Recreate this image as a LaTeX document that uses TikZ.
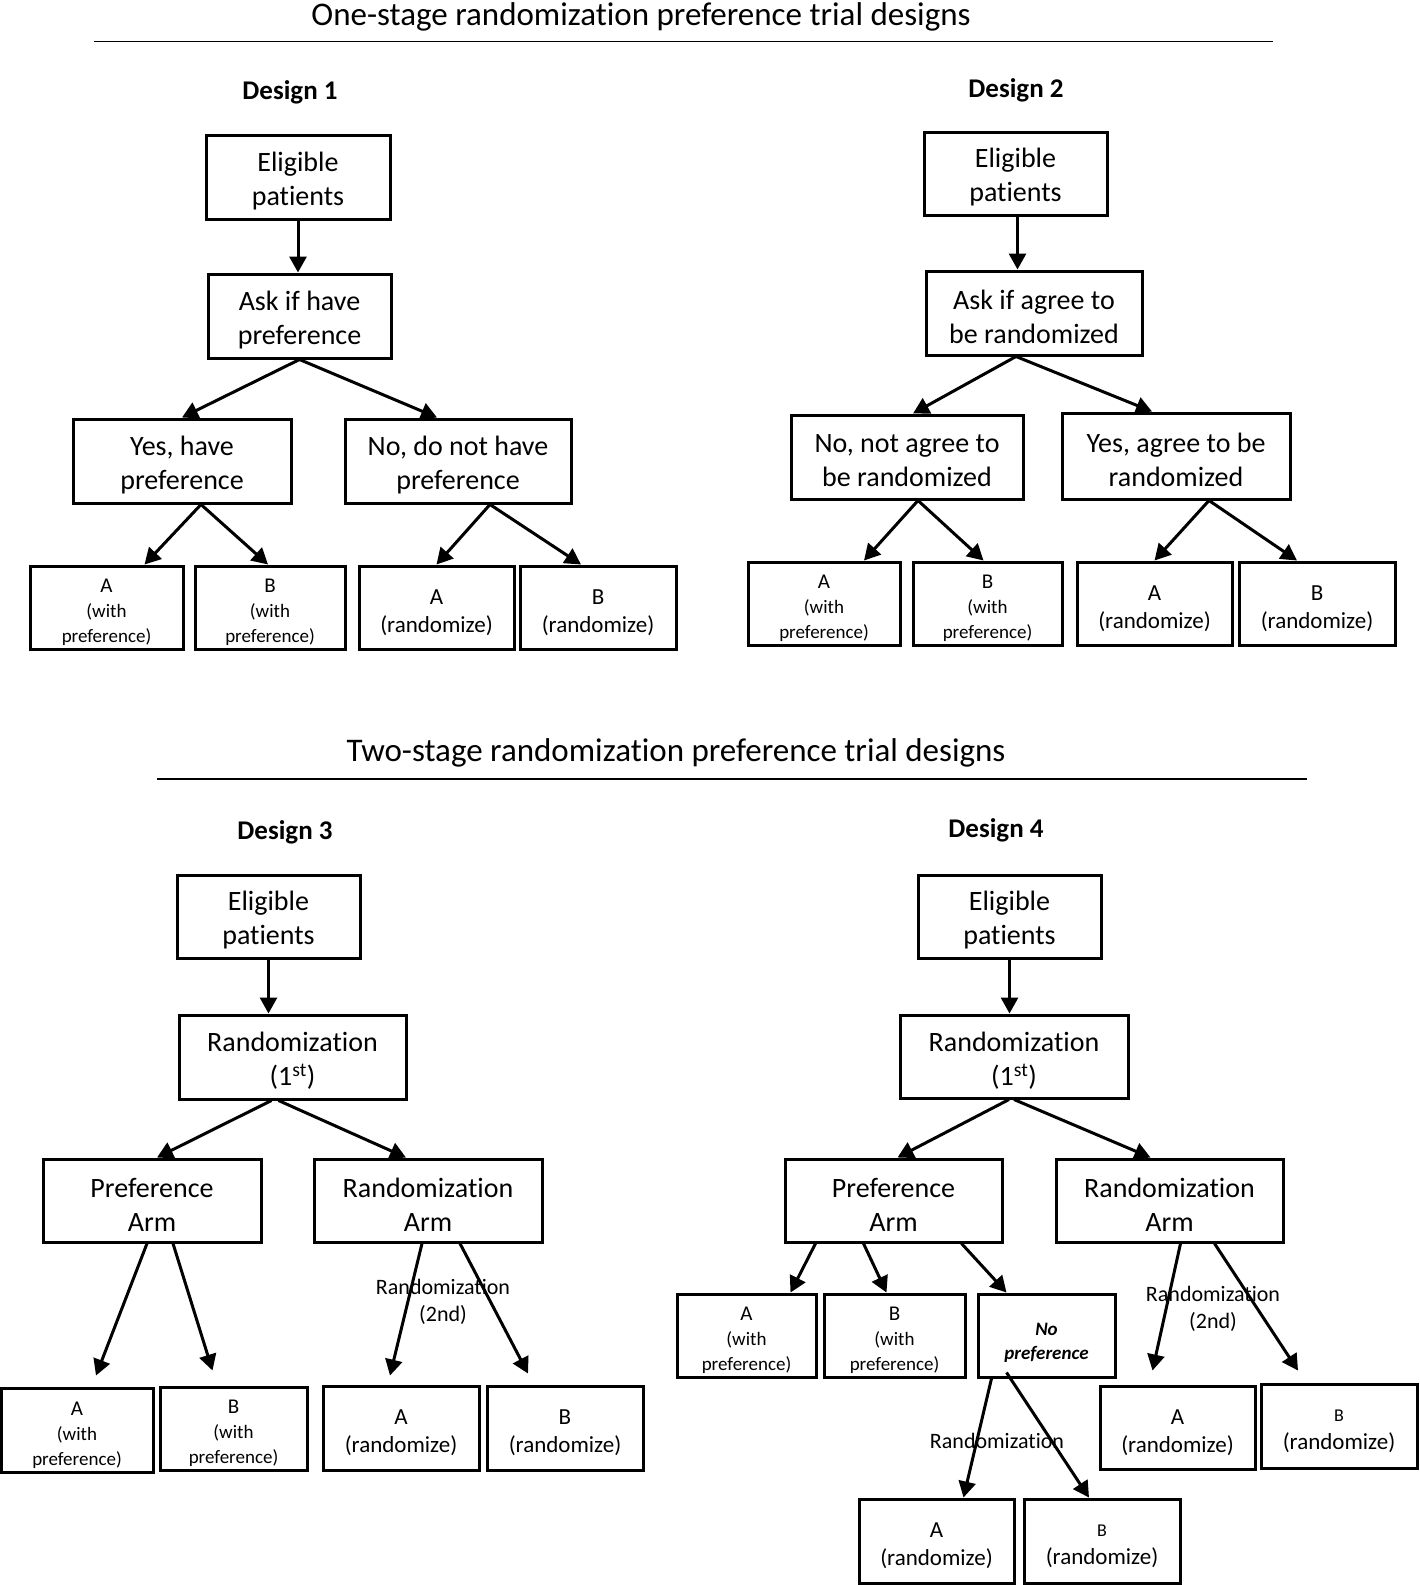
\documentclass[tikz,border=0pt]{standalone}
\usepackage{fontspec}
\setmainfont{Carlito}[Ligatures=NoCommon]
\usetikzlibrary{arrows.meta}
\newcommand\fsz[2]{\fontsize{#1}{#2}\selectfont}
\newcommand\bx[7]{\node[box,minimum width={(#4-#2)*1pt},minimum height={(#5-#3)*1pt}] (#1) at ({(#2+#4)/2},{(#3+#5)/2}) {};
  \node[txt,#6] (#1t) at (#1.center) {#7};}
\begin{document}
\begin{tikzpicture}[x=1pt,y=-1pt,
  box/.style={draw, line width=3pt, inner sep=0pt},
  txt/.style={inner sep=0pt, align=center, font=\fsz{28}{34}, yshift=-4pt},
  small/.style={font=\fsz{19}{25}, yshift=-1pt},
  rnd/.style={font=\fsz{23}{28}, yshift=-1pt},
  arr/.style={line width=3pt, -{Triangle[length=16pt,width=17pt]}},
  ttl/.style={anchor=base, font=\fsz{33}{40}},
  dsg/.style={anchor=base, font=\bfseries\fsz{27}{32}},
  lbl/.style={align=center, font=\fsz{22}{27}, inner sep=0pt},
  rule/.style={line width=1.5pt}]
\useasboundingbox (0,0) rectangle (1420,1585);
% titles
\node[ttl] (t1) at (641,25) {One-stage randomization preference trial designs};
\coordinate (r1a) at (94,41.5); \coordinate (r1b) at (1273,41.5);
\draw[rule] (r1a) -- (r1b);
\node[ttl] (t2) at (676,761) {Two-stage randomization preference trial designs};
\coordinate (r2a) at (157,779); \coordinate (r2b) at (1307,779);
\draw[rule] (r2a) -- (r2b);
\node[dsg] (d1) at (290,99) {Design 1};
\node[dsg] (d2) at (1016,97) {Design 2};
\node[dsg] (d3) at (285,839) {Design 3};
\node[dsg] (d4) at (996,837) {Design 4};
% Design 1
\bx{e1}{206}{135}{390}{219}{}{Eligible\\patients}
\bx{ask1}{208}{274}{391}{358}{}{Ask if have\\preference}
\bx{yes1}{73}{419}{291}{503}{}{Yes, have\\preference}
\bx{no1}{345}{419}{571}{503}{}{No, do not have\\preference}
\bx{a1}{30}{566}{183}{649}{small}{{\fsz{21}{25}A}\\(with\\preference)}
\bx{b1}{195}{566}{345}{649}{small}{{\fsz{21}{25}B}\\(with\\preference)}
\bx{ra1}{359}{566}{514}{649}{rnd}{A\\(randomize)}
\bx{rb1}{520}{566}{676}{649}{rnd}{B\\(randomize)}
\draw[arr] (e1.south) -- (e1.south |- ask1.north);
\draw[arr] (ask1.south) -- (yes1.north);
\draw[arr] (ask1.south) -- ([xshift=-21pt]no1.north);
\draw[arr] ([xshift=19pt]yes1.south) -- ([xshift=38pt]a1.north);
\draw[arr] ([xshift=19pt]yes1.south) -- ([xshift=-2pt]b1.north);
\draw[arr] ([xshift=32pt]no1.south) -- (ra1.north);
\draw[arr] ([xshift=32pt]no1.south) -- ([xshift=-17pt]rb1.north);
% Design 2
\bx{e2}{924}{132}{1107}{215}{}{Eligible\\patients}
\bx{ask2}{926}{271}{1142}{355}{}{Ask if agree to\\be randomized}
\bx{no2}{791}{415}{1023}{499}{}{No, not agree to\\be randomized}
\bx{yes2}{1062}{413}{1290}{499}{}{Yes, agree to be\\randomized}
\bx{a2}{748}{562}{900}{645}{small}{{\fsz{21}{25}A}\\(with\\preference)}
\bx{b2}{913}{562}{1062}{645}{small}{{\fsz{21}{25}B}\\(with\\preference)}
\bx{ra2}{1077}{562}{1232}{645}{rnd}{A\\(randomize)}
\bx{rb2}{1239}{562}{1395}{645}{rnd}{B\\(randomize)}
\draw[arr] ([xshift=2pt]e2.south) -- ([xshift=2pt]e2.south |- ask2.north);
\draw[arr] ([xshift=-18pt]ask2.south) -- ([xshift=6pt]no2.north);
\draw[arr] ([xshift=-18pt]ask2.south) -- ([xshift=-24pt]yes2.north);
\draw[arr] ([xshift=11pt]no2.south) -- ([xshift=40pt]a2.north);
\draw[arr] ([xshift=11pt]no2.south) -- ([xshift=-4pt]b2.north);
\draw[arr] ([xshift=33pt]yes2.south) -- (ra2.north);
\draw[arr] ([xshift=33pt]yes2.south) -- ([xshift=-20pt]rb2.north);
% Design 3
\bx{e3}{177}{875}{360}{958}{}{Eligible\\patients}
\bx{r3}{179}{1015}{406}{1099}{}{Randomization\\(1\textsuperscript{st})}
\bx{pa3}{43}{1159}{261}{1242}{}{Preference\\Arm}
\bx{ra3}{314}{1159}{542}{1242}{}{Randomization\\Arm}
\bx{a3}{1}{1388}{153}{1472}{small}{{\fsz{21}{25}A}\\(with\\preference)}
\bx{b3}{160}{1387}{307}{1470}{small}{{\fsz{21}{25}B}\\(with\\preference)}
\bx{rra3}{323}{1386}{479}{1470}{rnd}{A\\(randomize)}
\bx{rrb3}{487}{1386}{643}{1470}{rnd}{B\\(randomize)}
\draw[arr] (e3.south) -- (e3.south |- r3.north);
\draw[arr] ([xshift=-21pt]r3.south) -- ([xshift=5pt]pa3.north);
\draw[arr] ([xshift=-14pt]r3.south) -- ([xshift=-22pt]ra3.north);
\draw[arr] ([xshift=-5pt]pa3.south) -- ([xshift=19pt,yshift=11pt]a3.north);
\draw[arr] ([xshift=21pt]pa3.south) -- ([xshift=-21pt,yshift=15pt]b3.north);
\draw[arr] ([xshift=-6pt]ra3.south) -- ([xshift=-11pt,yshift=9pt]rra3.north);
\draw[arr] ([xshift=32pt]ra3.south) -- ([xshift=-37pt,yshift=11pt]rrb3.north);
\node[lbl] (l3) at (443,1302) {Randomization\\(2nd)};
% Design 4
\bx{e4}{918}{875}{1101}{958}{}{Eligible\\patients}
\bx{r4}{900}{1015}{1128}{1098}{}{Randomization\\(1\textsuperscript{st})}
\bx{pa4}{785}{1159}{1002}{1242}{}{Preference\\Arm}
\bx{ra4}{1056}{1159}{1283}{1242}{}{Randomization\\Arm}
\bx{a4}{677}{1294}{816}{1377}{small}{{\fsz{21}{25}A}\\(with\\preference)}
\bx{b4}{824}{1294}{965}{1377}{small}{{\fsz{21}{25}B}\\(with\\preference)}
\bx{np4}{978}{1294}{1115}{1377}{font=\bfseries\itshape\fsz{19}{24}, yshift=-3pt}{No\\preference}
\bx{rra4}{1100}{1386}{1255}{1469}{rnd}{A\\(randomize)}
\bx{rrb4}{1261}{1384}{1417}{1468}{rnd}{{\fsz{18}{24}B}\\(randomize)}
\bx{ba4}{859}{1499}{1014}{1583}{rnd}{A\\(randomize)}
\bx{bb4}{1024}{1499}{1180}{1583}{rnd}{{\fsz{18}{24}B}\\(randomize)}
\draw[arr] (e4.south) -- (e4.south |- r4.north);
\draw[arr] ([xshift=-5pt]r4.south) -- ([xshift=4pt]pa4.north);
\draw[arr] (r4.south) -- ([xshift=-19pt]ra4.north);
\draw[arr] ([xshift=-78pt]pa4.south) -- ([xshift=44pt]a4.north);
\draw[arr] ([xshift=-30pt]pa4.south) -- ([xshift=-8pt]b4.north);
\draw[arr] ([xshift=68pt]pa4.south) -- ([xshift=-40pt]np4.north);
\draw[arr] ([xshift=-55pt]np4.south) -- ([xshift=27pt]ba4.north);
\draw[arr] ([xshift=-40pt,yshift=6pt]np4.south) -- ([xshift=-13pt]bb4.north);
\draw[arr] ([xshift=11pt]ra4.south) -- ([xshift=-25pt,yshift=14pt]rra4.north);
\draw[arr] ([xshift=45pt]ra4.south) -- ([xshift=-41pt,yshift=12pt]rrb4.north);
\node[lbl] (l4) at (1213,1309) {Randomization\\(2nd)};
\node[lbl] (l5) at (997,1441) {Randomization};
\end{tikzpicture}
\end{document}
